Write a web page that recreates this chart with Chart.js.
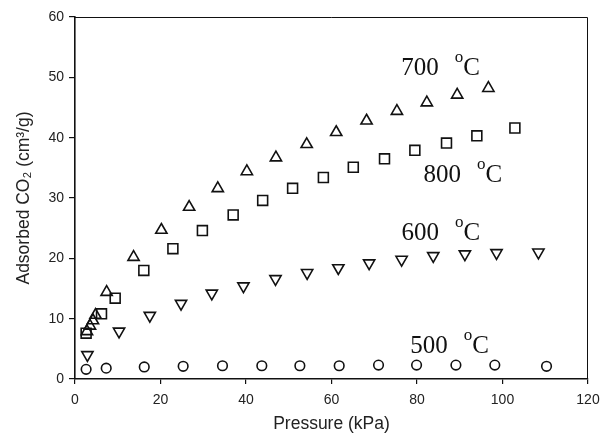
<!DOCTYPE html>
<html>
<head>
<meta charset="utf-8">
<script src="https://cdn.jsdelivr.net/npm/chart.js@4/dist/chart.umd.min.js"></script>
<style>
  html, body { margin: 0; padding: 0; background: #fff; }
  canvas { display: block; }
</style>
</head>
<body>
<canvas id="co2-chart" width="602" height="438"></canvas>
<script>
// ---------------------------------------------------
// pressure (kPa) and adsorbed CO2 (cm3/g) per temperature
const p700 = [ 2.8, 3.5, 4.2, 4.8, 7.4, 13.7, 20.2, 26.7, 33.4, 40.2, 47.0, 54.2, 61.1, 68.2, 75.3, 82.3, 89.4, 96.7 ];
const q700 = [ 7.9, 8.8, 9.7, 10.6, 14.4, 20.2, 24.7, 28.5, 31.6, 34.4, 36.7, 38.9, 40.9, 42.8, 44.4, 45.8, 47.1, 48.2 ];

const p800 = [ 2.6, 6.2, 9.4, 16.1, 22.9, 29.8, 37.0, 43.9, 50.9, 58.1, 65.1, 72.4, 79.5, 86.9, 94.0, 102.9 ];
const q800 = [ 7.6, 10.8, 13.4, 18.0, 21.6, 24.6, 27.2, 29.6, 31.6, 33.4, 35.1, 36.5, 37.9, 39.1, 40.3, 41.6 ];

const p600 = [ 2.9, 10.3, 17.5, 24.8, 32.0, 39.4, 46.9, 54.3, 61.6, 68.8, 76.4, 83.8, 91.2, 98.6, 108.4 ];
const q600 = [ 4.0, 7.9, 10.5, 12.5, 14.2, 15.4, 16.6, 17.6, 18.4, 19.2, 19.8, 20.4, 20.7, 20.9, 21.0 ];

const p500 = [ 2.6, 7.3, 16.2, 25.3, 34.5, 43.7, 52.6, 61.8, 71.0, 79.9, 89.1, 98.2, 110.3 ];
const q500 = [ 1.6, 1.8, 2.0, 2.1, 2.2, 2.2, 2.2, 2.2, 2.3, 2.3, 2.3, 2.3, 2.1 ];

// curve labels: temperature, anchor pressure, anchor CO2 (baseline)
const labelTemps = [ '700', '800', '600', '500' ];
const labelX     = [ 76.3, 81.5, 76.4, 78.4 ];
const labelY     = [ 50.4, 32.6, 23.0, 4.3 ];
// ---------------------------------------------------
function toPoints( xs, ys ) {
    return xs.map( ( x, i ) => ({ x: x, y: ys[ i ] }) );
}

function series( label, xs, ys, style, radius, rotation ) {
    return {
        label: label,
        data: toPoints( xs, ys ),
        showLine: false,
        pointStyle: style,
        pointRadius: radius,
        pointHoverRadius: radius,
        pointRotation: rotation || 0,
        pointBorderWidth: 1.6,
        pointBorderColor: '#111',
        pointBackgroundColor: 'rgba(0,0,0,0)'
    };
}

// frame round the plot and the temperature labels
const annotate = {
    id: 'annotate',
    afterDraw( chart ) {
        const ctx = chart.ctx;
        const a = chart.chartArea;
        const xs = chart.scales.x;
        const ys = chart.scales.y;
        ctx.save();
        ctx.strokeStyle = '#111';
        ctx.lineWidth = 1;
        ctx.beginPath();
        ctx.moveTo( a.left, a.top + 0.5 );
        ctx.lineTo( a.right - 0.5, a.top + 0.5 );
        ctx.lineTo( a.right - 0.5, a.bottom );
        ctx.stroke();

        ctx.fillStyle = '#111';
        ctx.textBaseline = 'alphabetic';
        ctx.textAlign = 'left';
        labelTemps.forEach( ( t, i ) => {
            let px = xs.getPixelForValue( labelX[ i ] );
            const py = ys.getPixelForValue( labelY[ i ] );
            ctx.font = '25px "Liberation Serif", "Times New Roman", serif';
            ctx.fillText( t, px, py );
            px += ctx.measureText( t ).width + 16;
            ctx.font = '17px "Liberation Serif", "Times New Roman", serif';
            ctx.fillText( 'o', px, py - 13 );
            px += ctx.measureText( 'o' ).width;
            ctx.font = '25px "Liberation Serif", "Times New Roman", serif';
            ctx.fillText( 'C', px, py );
        });
        ctx.restore();
    }
};

window.addEventListener( 'load', function () {
    const tickFont = { family: '"Liberation Sans", Arial, sans-serif', size: 14 };
    const titleFont = { family: '"Liberation Sans", Arial, sans-serif', size: 17.5 };

    new Chart( document.querySelector( '#co2-chart' ), {
        type: 'scatter',
        data: {
            datasets: [
                series( '700 °C', p700, q700, 'triangle', 6.5 ),
                series( '800 °C', p800, q800, 'rect', 7 ),
                series( '600 °C', p600, q600, 'triangle', 6.5, 180 ),
                series( '500 °C', p500, q500, 'circle', 4.8 )
            ]
        },
        options: {
            responsive: false,
            animation: false,
            layout: { padding: { top: 17, right: 14, bottom: 0, left: 0 } },
            plugins: {
                legend: { display: false },
                tooltip: { enabled: false }
            },
            scales: {
                x: {
                    type: 'linear',
                    min: 0,
                    max: 120,
                    afterFit( s ) {
                        s.height = 59;
                        s.paddingRight = 0;
                        s.paddingLeft = 0;
                    },
                    border: { color: '#111', width: 1.6 },
                    grid: { drawOnChartArea: false, tickLength: 5, color: '#111', lineWidth: 1.2 },
                    ticks: { stepSize: 20, color: '#222', font: tickFont, padding: 8, maxRotation: 0 },
                    title: { display: true, text: 'Pressure (kPa)', color: '#222', font: titleFont, padding: { top: 0, bottom: 3 } }
                },
                y: {
                    min: 0,
                    max: 60,
                    afterFit( s ) {
                        s.width = 75;
                        s.paddingTop = 0;
                        s.paddingBottom = 0;
                    },
                    border: { color: '#111', width: 1.6 },
                    grid: { drawOnChartArea: false, tickLength: 6, color: '#111', lineWidth: 1.2 },
                    ticks: { stepSize: 10, color: '#222', font: tickFont, padding: 5 },
                    title: { display: true, text: 'Adsorbed CO₂ (cm³/g)', color: '#222', font: titleFont, padding: { top: 14, bottom: 0 } }
                }
            }
        },
        plugins: [ annotate ]
    });
}, false );
</script>
</body>
</html>
